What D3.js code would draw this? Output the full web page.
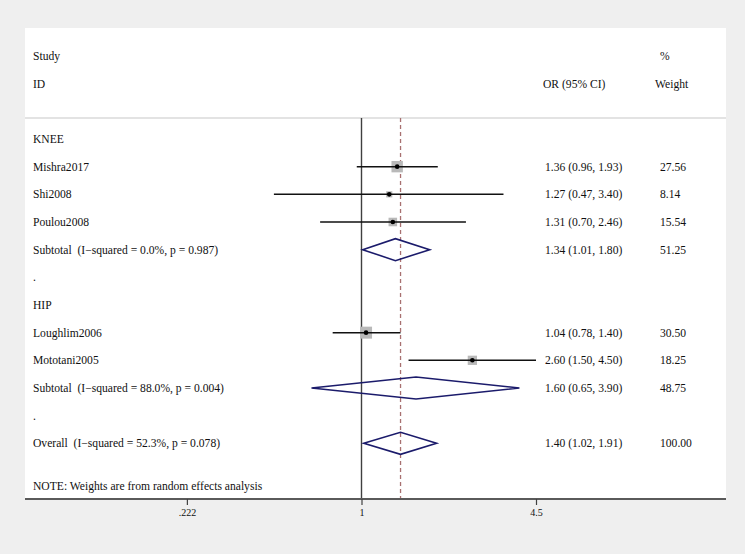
<!DOCTYPE html>
<html>
<head>
<meta charset="utf-8">
<script src="https://cdn.jsdelivr.net/npm/d3@7/dist/d3.min.js"></script>
<style>
  html, body { margin: 0; padding: 0; background: #efefef; }
  svg { display: block; }
  text { font-family: "Liberation Serif", "Times New Roman", serif; fill: #111; white-space: pre; }
</style>
</head>
<body>
<svg id="chart" width="745" height="554"></svg>
<script>
// ---- data ----
const rowLabels = [
  "KNEE",
  "Mishra2017",
  "Shi2008",
  "Poulou2008",
  "Subtotal  (I\u2212squared = 0.0%, p = 0.987)",
  ".",
  "HIP",
  "Loughlim2006",
  "Mototani2005",
  "Subtotal  (I\u2212squared = 88.0%, p = 0.004)",
  ".",
  "Overall  (I\u2212squared = 52.3%, p = 0.078)"
];
const rowTypes = ["head","study","study","study","sub","blank","head","study","study","sub","blank","overall"];
const orValues = [null, 1.36, 1.27, 1.31, 1.34, null, null, 1.04, 2.60, 1.60, null, 1.40];
const ciLower  = [null, 0.96, 0.47, 0.70, 1.01, null, null, 0.78, 1.50, 0.65, null, 1.02];
const ciUpper  = [null, 1.93, 3.40, 2.46, 1.80, null, null, 1.40, 4.50, 3.90, null, 1.91];
const weights  = [null, 27.56, 8.14, 15.54, 51.25, null, null, 30.50, 18.25, 48.75, null, 100.00];
const tickValues = [0.222, 1, 4.5];
const tickLabels = [".222", "1", "4.5"];
const overallOR = 1.40;
const noteText = "NOTE: Weights are from random effects analysis";

// ---- layout ----
const svg = d3.select("#chart");
const panel = { x0: 25, x1: 726, y0: 28, y1: 499 };
const sepY = 118;

const x = d3.scaleLog().domain([1 / 4.5, 4.5]).range([187, 536]);
const y = d3.scalePoint().domain(d3.range(rowLabels.length)).range([139, 443.3]);

svg.append("rect")
  .attr("x", panel.x0).attr("y", panel.y0)
  .attr("width", panel.x1 - panel.x0).attr("height", panel.y1 - panel.y0)
  .attr("fill", "#ffffff");

// header
const fs = 11.6;
const colOR = 545, colW = 660;
const hdr = svg.append("g").style("font-size", fs + "px");
hdr.append("text").attr("x", 33).attr("y", 56 + 4).text("Study");
hdr.append("text").attr("x", 33).attr("y", 84 + 4).text("ID");
hdr.append("text").attr("x", 543).attr("y", 84 + 4).text("OR (95% CI)");
hdr.append("text").attr("x", 660).attr("y", 56 + 4).text("%");
hdr.append("text").attr("x", 655).attr("y", 84 + 4).text("Weight");

// separator
svg.append("line")
  .attr("x1", panel.x0).attr("x2", panel.x1)
  .attr("y1", sepY).attr("y2", sepY)
  .attr("stroke", "#c8c8c8").attr("stroke-width", 1.2);

// null line
svg.append("line")
  .attr("x1", x(1)).attr("x2", x(1))
  .attr("y1", sepY).attr("y2", panel.y1)
  .attr("stroke", "#404040").attr("stroke-width", 1.4);

// overall dashed line
svg.append("line")
  .attr("x1", x(overallOR)).attr("x2", x(overallOR))
  .attr("y1", sepY).attr("y2", panel.y1)
  .attr("stroke", "#a87070").attr("stroke-width", 1.3)
  .attr("stroke-dasharray", "4,3");

// rows
const rows = d3.range(rowLabels.length);
const g = svg.append("g").style("font-size", fs + "px");

g.selectAll("text.lab").data(rows).join("text")
  .attr("class", "lab")
  .attr("xml:space", "preserve")
  .attr("x", 33).attr("y", i => y(i) + 4)
  .text(i => rowLabels[i]);

g.selectAll("text.orc").data(rows.filter(i => orValues[i] != null)).join("text")
  .attr("class", "orc")
  .attr("x", colOR).attr("y", i => y(i) + 4)
  .text(i => `${orValues[i].toFixed(2)} (${ciLower[i].toFixed(2)}, ${ciUpper[i].toFixed(2)})`);

g.selectAll("text.wt").data(rows.filter(i => weights[i] != null)).join("text")
  .attr("class", "wt")
  .attr("x", colW).attr("y", i => y(i) + 4)
  .text(i => weights[i].toFixed(2));

// study rows
const studies = rows.filter(i => rowTypes[i] === "study");
const boxSize = i => 2.17 * Math.sqrt(weights[i]);

svg.selectAll("rect.box").data(studies).join("rect")
  .attr("class", "box")
  .attr("x", i => x(orValues[i]) - boxSize(i) / 2)
  .attr("y", i => y(i) - boxSize(i) / 2)
  .attr("width", boxSize).attr("height", boxSize)
  .attr("fill", "#b9b9b9");

svg.selectAll("line.ci").data(studies).join("line")
  .attr("class", "ci")
  .attr("x1", i => x(ciLower[i])).attr("x2", i => x(ciUpper[i]))
  .attr("y1", i => y(i)).attr("y2", i => y(i))
  .attr("stroke", "#111").attr("stroke-width", 1.5);

svg.selectAll("circle.pt").data(studies).join("circle")
  .attr("class", "pt")
  .attr("cx", i => x(orValues[i])).attr("cy", i => y(i))
  .attr("r", 2.3).attr("fill", "#000");

// diamonds
const diam = rows.filter(i => rowTypes[i] === "sub" || rowTypes[i] === "overall");
const dh = 11;
svg.selectAll("path.dia").data(diam).join("path")
  .attr("class", "dia")
  .attr("d", i => {
    const yc = y(i);
    return `M${x(ciLower[i])},${yc} L${x(orValues[i])},${yc - dh} L${x(ciUpper[i])},${yc} L${x(orValues[i])},${yc + dh} Z`;
  })
  .attr("fill", "none")
  .attr("stroke", "#1b1b6b").attr("stroke-width", 1.6);

// note
g.append("text").attr("x", 33).attr("y", 486 + 4).text(noteText);

// axis
const axisG = svg.append("g").attr("transform", `translate(0,${panel.y1})`);
axisG.append("line")
  .attr("x1", panel.x0).attr("x2", panel.x1)
  .attr("y1", 0).attr("y2", 0)
  .attr("stroke", "#5a5a5a").attr("stroke-width", 2.2);
const axis = d3.axisBottom(x).tickValues(tickValues)
  .tickFormat((d, i) => tickLabels[i]).tickSize(6).tickPadding(4);
const ag = axisG.append("g").call(axis);
ag.select(".domain").remove();
ag.selectAll(".tick line").attr("stroke", "#404040").attr("stroke-width", 1.2);
ag.selectAll(".tick text")
  .style("font-family", "'Liberation Serif', 'Times New Roman', serif")
  .style("font-size", "10px").attr("fill", "#111");
</script>
</body>
</html>
